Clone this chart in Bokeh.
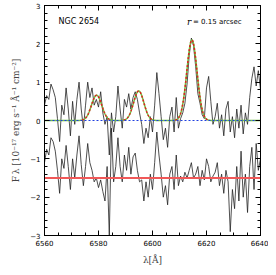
import numpy as np
from bokeh.plotting import figure
from bokeh.models import Range1d, LinearAxis, FixedTicker
from bokeh.core.properties import value
from bokeh.embed import file_html
from bokeh.resources import INLINE

# wavelength grid of the observed spectrum (Angstrom)
wave_start = 6560.0
wave_step = 0.8
# observed (continuum-subtracted) flux
flux = [0.40, 0.65, 0.55, 0.95, 0.80, 0.60, 0.05, -0.55, 0.40, 0.15,
        0.85, 0.30, -0.40, 0.50, -0.10, 0.55, 1.00, 0.30, -0.20, 0.40,
        1.00, 0.60, 0.85, 0.40, 0.55, 0.35, 0.75, 0.20, -0.10, 0.10,
        -0.90, 0.20, -0.30, 0.10, 0.90, 0.30, -0.20, 0.55, 0.35, 0.70,
        0.30, 0.60, 0.75, 0.55, 0.20, -0.10, -0.60, -0.20, -0.45, 0.10,
        -0.30, 0.40, 1.25, 0.70, 0.10, -0.50, -0.20, -0.70, 0.10, 0.35,
        -0.30, 0.60, -0.20, 0.05, 0.20, 0.45, 0.95, 1.70, 2.15, 1.95,
        1.40, 0.70, 0.45, 0.15, 0.05, 0.85, 1.15, 0.50, -0.10, 0.10,
        0.45, -0.20, 0.15, -0.40, 0.30, 0.50, -0.30, 0.10, -0.45, 0.30,
        -0.20, 0.40, -0.35, 0.20, -0.10, 0.60, 1.10, 1.40, 0.90, 1.30,
        0.80]
# residuals (offset by -1.5)
resid = [-1.10, -0.75, -0.90, -0.45, -0.55, -0.80, -1.30, -1.90, -1.00, -1.25,
         -0.65, -1.20, -1.80, -1.00, -1.50, -0.90, -0.40, -1.15, -1.70, -1.20,
         -0.60, -1.10, -1.30, -1.60, -1.50, -1.75, -1.55, -1.85, -2.10, -1.20,
         -3.00, -0.20, -1.60, -1.20, -0.45, -1.20, -1.60, -0.90, -1.30, -0.70,
         -1.40, -0.95, -0.85, -1.30, -1.60, -1.55, -2.10, -1.60, -2.00, -1.40,
         -1.80, -1.10, -0.30, -0.90, -1.40, -2.00, -1.70, -2.20, -1.40, -1.20,
         -1.80, -0.90, -1.70, -1.45, -1.60, -1.35, -1.50, -1.30, -1.10, -1.50,
         -1.40, -1.20, -1.70, -1.30, -1.55, -1.00, -1.20, -1.60, -1.45, -1.35,
         -1.10, -1.70, -1.40, -1.90, -1.30, -1.60, -2.90, -1.80, -2.30, -1.20,
         -2.10, -0.80, -2.00, -1.40, -2.40, -1.20, -0.70, -1.80, -0.60, -1.30,
         -1.00]
resid_level = -1.5

# Gaussian fit of the emission lines
line_centers = [6579.3, 6594.9, 6614.6]
line_amps = [0.66, 0.77, 2.10]
line_sigma = 1.9

wave = wave_start + wave_step * np.arange(len(flux))
mw = np.linspace(6560, 6640, 801)
model = np.zeros_like(mw)
for c, a in zip(line_centers, line_amps):
    model += a * np.exp(-0.5 * ((mw - c) / line_sigma) ** 2)
model_red = np.where(model > 0.01, model, np.nan)

p = figure(width=268, height=267, output_backend="svg", toolbar_location=None,
           x_range=Range1d(6560, 6640), y_range=Range1d(-3, 3),
           min_border_left=44, min_border_right=8, min_border_top=5, min_border_bottom=30)
p.background_fill_color = "white"
p.border_fill_color = "white"
p.outline_line_color = "black"
p.grid.visible = False

p.line(wave, flux, line_color="#222222", line_width=0.8)
p.line(wave, resid, line_color="#222222", line_width=0.8)
p.line([6560, 6640], [resid_level, resid_level], line_color="#f05858", line_width=2)
p.line(mw, model, line_color="#70c040", line_width=1.5)
p.line(mw, model_red, line_color="#e02020", line_width=1.5, line_dash="2 2")
p.line([6560, 6640], [0, 0], line_color="#2040e0", line_width=1.2, line_dash="2 2")

xt = FixedTicker(ticks=[6560, 6580, 6600, 6620, 6640],
                 minor_ticks=list(range(6560, 6641, 5)))
yt = FixedTicker(ticks=[-3, -2, -1, 0, 1, 2, 3],
                 minor_ticks=[round(-3 + 0.2 * i, 1) for i in range(31)])

def style(ax, labels=True):
    ax.major_tick_in = 5
    ax.major_tick_out = 0
    ax.minor_tick_in = 3
    ax.minor_tick_out = 0
    ax.axis_line_color = "black"
    ax.major_tick_line_color = "black"
    ax.minor_tick_line_color = "black"
    ax.major_label_text_font = "DejaVu Sans"
    ax.major_label_text_font_size = "7px"
    ax.major_label_text_color = "black" if labels else None
    ax.major_label_standoff = 4

p.xaxis.ticker = xt
p.yaxis.ticker = yt
style(p.xaxis[0])
style(p.yaxis[0])
p.xaxis.axis_label = "λ[Å]"
p.yaxis.axis_label = "F\u2009λ [10⁻¹⁷ erg s⁻¹ Å⁻¹ cm⁻²]"
for ax in (p.xaxis[0], p.yaxis[0]):
    ax.axis_label_text_font = "DejaVu Serif"
    ax.axis_label_text_font_style = "normal"
    ax.axis_label_text_font_size = "9px"
    ax.axis_label_standoff = 6

ra = LinearAxis(ticker=yt)
style(ra, labels=False)
p.add_layout(ra, "right")
ta = LinearAxis(ticker=xt)
style(ta, labels=False)
p.add_layout(ta, "above")

p.text(x=[6565.2], y=[2.57], text=["NGC 2654"], text_font=value("DejaVu Sans"),
       text_font_size="8px", text_baseline="middle")
p.text(x=[6612.8], y=[2.57], text=["r"], text_font=value("DejaVu Serif"),
       text_font_style="italic", text_font_size="9px", text_baseline="middle")
p.text(x=[6615.0], y=[2.57], text=["= 0.15 arcsec"], text_font=value("DejaVu Sans"),
       text_font_size="7px", text_baseline="middle")

open("out.html", "w").write(file_html(p, INLINE))
